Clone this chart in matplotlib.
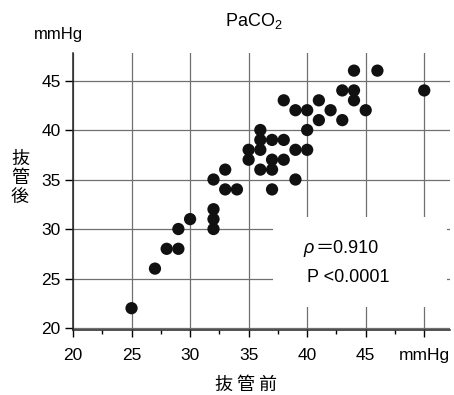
import matplotlib
matplotlib.use("Agg")
import matplotlib.pyplot as plt
from matplotlib.patches import Rectangle
from matplotlib.ticker import MultipleLocator

# PaCO2 before (x) / after (y) extubation
before = [25, 27, 28, 29, 29, 30, 32, 32, 32, 32, 33, 34, 33, 35, 35,
          36, 36, 36, 36, 37, 37, 37, 37, 38, 38, 38, 39, 39, 39,
          40, 40, 40, 41, 41, 42, 43, 43, 44, 44, 44, 45, 46, 50]
after = [22, 26, 28, 28, 30, 31, 30, 31, 32, 35, 34, 34, 36, 37, 38,
         36, 38, 39, 40, 34, 36, 37, 39, 37, 39, 43, 35, 38, 42,
         38, 40, 42, 41, 43, 42, 41, 44, 43, 44, 46, 42, 46, 44]

xticks = [20, 25, 30, 35, 40, 45, 50]
xticklabels = ["20", "25", "30", "35", "40", "45", "mmHg"]
yticks = [20, 25, 30, 35, 40, 45]
rho_value = "＝0.910"
p_text = "P <0.0001"

plt.rcParams['font.family'] = ['Liberation Sans', 'Noto Sans CJK JP', 'DejaVu Sans']

fig = plt.figure(figsize=(4.54, 3.95), dpi=100)
ax = fig.add_axes([0.1608, 0.1646, 0.8304, 0.7017])

ax.scatter(before, after, s=78, color='#111111', edgecolors='none', zorder=3)

ax.set_xlim(20, 52.2)
ax.set_ylim(19.8, 47.8)
ax.set_xticks(xticks)
ax.set_xticklabels(xticklabels)
ax.set_yticks(yticks)
ax.xaxis.set_minor_locator(MultipleLocator(2.5))
ax.tick_params(axis='x', which='major', direction='out', length=5, width=1,
               pad=8, labelsize=12.5)
ax.tick_params(axis='x', which='minor', direction='out', length=3, width=1)
ax.tick_params(axis='y', which='major', direction='out', length=6, width=1,
               pad=3, labelsize=12.5)

for sp in ['top', 'right']:
    ax.spines[sp].set_visible(False)
for sp in ['left', 'bottom']:
    ax.spines[sp].set_linewidth(1.1)
    ax.spines[sp].set_color('#222222')

ax.grid(True, which='major', color='#707070', linewidth=0.9)
ax.set_axisbelow(True)

# white patch behind the statistics
ax.add_patch(Rectangle((0.5305, 0.083), 0.4615, 0.325, transform=ax.transAxes,
                       facecolor='white', edgecolor='none', zorder=1))
rho = ax.text(0.612, 0.263, "ρ", transform=ax.transAxes, fontsize=13,
              style='italic', ha='left', va='bottom', zorder=4)
ax.annotate(rho_value, xy=(1, 0), xycoords=rho, xytext=(1, 0),
            textcoords='offset points', fontsize=13, ha='left', va='bottom',
            zorder=4)
ax.text(0.62, 0.174, p_text, transform=ax.transAxes, fontsize=13,
        ha='left', va='baseline', zorder=4)

fig.text(254 / 454, 1 - 21 / 395, r'$\mathregular{PaCO_2}$', fontsize=13,
         ha='center', va='center')
fig.text(58 / 454, 1 - 35 / 395, "mmHg", fontsize=12, ha='center', va='center')
fig.text(20 / 454, 1 - 178 / 395, "抜\n管\n後", fontsize=13, ha='center',
         va='center', linespacing=1.05, family=['Noto Sans CJK JP'])
fig.text(246 / 454, 1 - 385 / 395, "抜 管 前", fontsize=13, ha='center',
         va='center', family=['Noto Sans CJK JP'])

fig.savefig("out.png", dpi=100)
